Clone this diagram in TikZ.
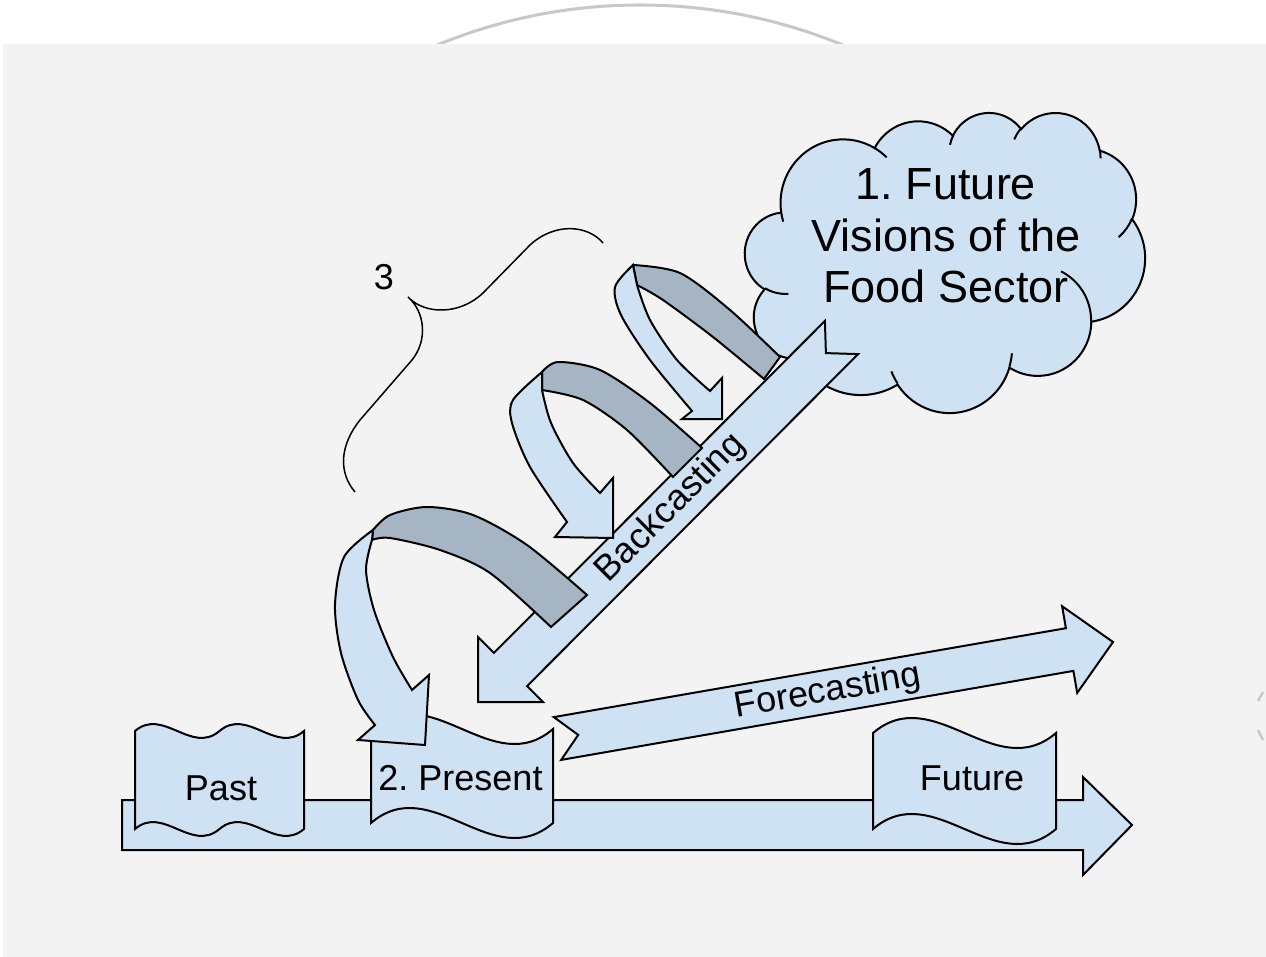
\documentclass[tikz,border=0pt]{standalone}
\usepackage{fontspec}
\setmainfont{Liberation Sans}
\usepackage{tikz}
\definecolor{skyblue}{RGB}{207,226,243}
\definecolor{foldgray}{RGB}{166,181,195}
\definecolor{paper}{RGB}{243,243,243}
\definecolor{rimgray}{RGB}{200,200,200}
\frenchspacing

\begin{document}
\begin{tikzpicture}[x=1pt,y=-1pt,
    shp/.style={fill=skyblue,draw=black,line width=2pt,line join=miter},
    fold/.style={fill=foldgray,draw=black,line width=2pt},
    lbl/.style={font=\fontsize{36}{43}\selectfont,inner sep=0pt}]
    \useasboundingbox (0,0) rectangle (1266,957);
    \fill[white] (0,0) rectangle (1266,957);
    \draw[rimgray,line width=3pt] (640,537) circle[radius=532];
    \fill[paper] (3,44) rectangle (1266,957);
    \draw[rimgray,line width=2.5pt] (1263,692) -- (1258,701) (1258,730) -- (1263,740);

    \filldraw[shp] (122,800) -- (1083,800) -- (1083,777) -- (1132,825) -- (1083,875) -- (1083,850) -- (122,850) -- cycle;
    \filldraw[shp] (135,731) .. controls (163.2,707) and (191.3,755) .. (219.5,731) .. controls (247.7,707) and (275.8,755) .. (304,731)
        -- (304,829) .. controls (275.8,853) and (247.7,805) .. (219.5,829) .. controls (191.3,853) and (163.2,805) .. (135,829) -- cycle;
    \filldraw[shp] (371,729) .. controls (431.7,677) and (492.3,781) .. (553,729)
        -- (553,823) .. controls (492.3,875) and (431.7,771) .. (371,823) -- cycle;
    \filldraw[shp] (873,733) .. controls (934,681) and (995,785) .. (1056,733)
        -- (1056,829) .. controls (995,881) and (934,777) .. (873,829) -- cycle;
    \node[lbl,anchor=base] (past) at (221,800) {Past};
    \node[lbl,anchor=base] (present) at (460.5,790) {2. Present};
    \node[lbl,anchor=base] (future) at (972,790) {Future};

    \begin{scope}[shift={(745,112)},x=0.0925926pt,y=-0.0694444pt]
        \filldraw[shp] (390,1437)
            arc[start angle=-187.75,delta angle=128.07,x radius=675.3,y radius=919]
            arc[start angle=-152.02,delta angle=106.56,x radius=533.3,y radius=726.7]
            arc[start angle=-153.49,delta angle=116.17,x radius=436.5,y radius=594.5]
            arc[start angle=-139.72,delta angle=129.51,x radius=485.7,y radius=659.5]
            arc[start angle=-74.78,delta angle=97.99,x radius=533.3,y radius=727.3]
            arc[start angle=-37.54,delta angle=119.40,x radius=677.5,y radius=922]
            arc[start angle=0.46,delta angle=121.50,x radius=578.5,y radius=786.7]
            arc[start angle=16.84,delta angle=129.41,x radius=675.2,y radius=921.5]
            arc[start angle=59.04,delta angle=91.13,x radius=772,y radius=1054.3]
            arc[start angle=83.31,delta angle=139.78,x radius=436,y radius=591.8]
            arc[start angle=120.36,delta angle=143.75,x radius=434.5,y radius=594.5]
            -- cycle;
        \draw[line width=2pt]
            (469.3,2617.7) arc[start angle=85.54,delta angle=34.82,x radius=434.5,y radius=594.5]
            (692.8,3489.9) arc[start angle=68.23,delta angle=15.08,x radius=436,y radius=591.8]
            (1647.8,3909) arc[start angle=146.25,delta angle=12.23,x radius=675.2,y radius=921.5]
            (2882.7,3475.1) arc[start angle=4.74,delta angle=12.10,x radius=675.2,y radius=921.5]
            (3412.9,2295.4) arc[start angle=-64.00,delta angle=64.46,x radius=578.5,y radius=786.7]
            (4179.8,1535.4) arc[start angle=23.21,delta angle=26.45,x radius=533.3,y radius=727.3]
            (3832.4,542.6) arc[start angle=-10.21,delta angle=11.03,x radius=485.7,y radius=659.5]
            (2907.8,395.2) arc[start angle=-156.28,delta angle=16.56,x radius=485.7,y radius=659.5]
            (2214.1,472) arc[start angle=-167.73,delta angle=14.24,x radius=436.5,y radius=594.5]
            (1400,519.2) arc[start angle=-59.68,delta angle=13.94,x radius=675.3,y radius=919]
            (412.7,1578.9) arc[start angle=163.19,delta angle=9.06,x radius=675.3,y radius=919];
    \end{scope}
    \node[align=center,font=\fontsize{45}{51.5}\selectfont,inner sep=0pt] (vision) at (946,236) {1. Future\\Visions of the\\Food Sector};

    \filldraw[shp] (478,702) -- (478,637) -- (493.9,652.9) -- (824.9,320.9) -- (825.9,353.1) -- (858.1,354.1) -- (527.1,686.1) -- (543,702) -- cycle;
    \node[lbl,rotate=45] (back) at (671,508) {Backcasting};

    \filldraw[fold] plot[smooth] coordinates {(780,357) (730,310) (680,273) (633,265)}
        -- plot[smooth] coordinates {(637,285) (663,300) (713,337) (764,379)} -- cycle;
    \filldraw[shp] plot[smooth] coordinates {(633,265) (615,287) (621,315) (650,360) (692,411)}
        -- (682,419) -- (722,419) -- (722,378) -- (710,391)
        -- plot[smooth] coordinates {(710,391) (677,360) (650,320) (637,285)} -- cycle;

    \filldraw[fold] plot[smooth] coordinates {(702,448) (650,403) (600,370) (558,362) (542,372)}
        -- plot[smooth] coordinates {(542,390) (583,400) (627,430) (673,477)} -- cycle;
    \filldraw[shp] plot[smooth] coordinates {(542,372) (513,400) (512,423) (530,467) (567,522)}
        -- (555,537) -- (613,538) -- (613,478) -- (600,493)
        -- plot[smooth] coordinates {(600,493) (573,463) (551,423) (542,390)} -- cycle;

    \filldraw[fold] plot[smooth] coordinates {(587,595) (527,545) (473,515) (427,507) (390,515) (373,530)}
        -- plot[smooth] coordinates {(372,540) (390,538) (440,550) (490,573) (551,627)} -- cycle;
    \filldraw[shp] plot[smooth] coordinates {(373,530) (344,557) (335,605) (341,653) (358,700) (375,725)}
        -- (358,740) -- (425,745) -- (429,675) -- (412,690)
        -- plot[smooth] coordinates {(412,690) (393,657) (374,610) (366,570) (372,540)} -- cycle;

    \filldraw[shp] (1113,642) -- (1062.1,606.2) -- (1065.9,628.2) -- (553.8,717.1) -- (578.2,734.9) -- (561.2,759.9) -- (1073.4,670.9) -- (1077.2,692.9) -- cycle;
    \node[lbl,rotate=9.85] (fore) at (828,692) {Forecasting};

    \draw[line width=1.5pt] (603,243) .. controls (588,225) and (555,222) .. (530,245) -- (483,293)
        .. controls (460,315) and (425,315) .. (408,297) .. controls (425,312) and (428,340) .. (412,360)
        -- (360,420) .. controls (340,445) and (338,472) .. (355,492);
    \node[lbl,anchor=base] (three) at (384,290) {3};
\end{tikzpicture}
\end{document}
